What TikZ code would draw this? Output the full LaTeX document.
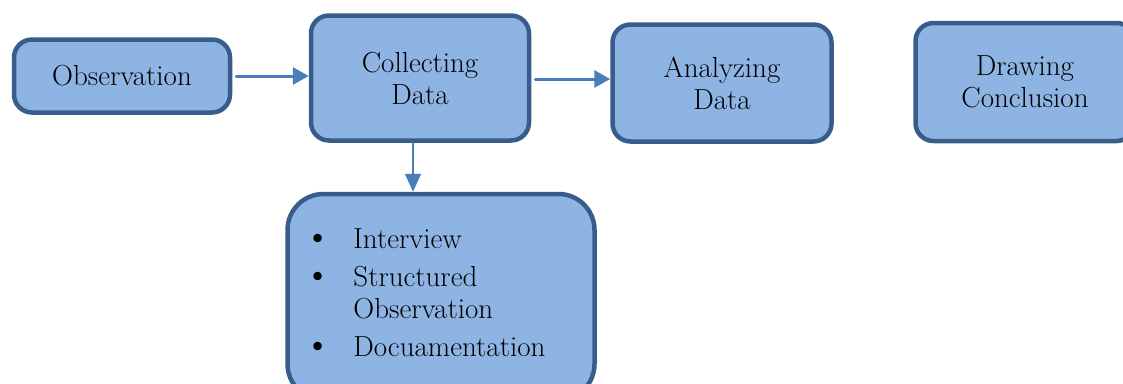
\documentclass[tikz,border=0pt]{standalone}
\usepackage{fontspec}
\usetikzlibrary{arrows.meta}
\definecolor{boxfill}{HTML}{8EB4E3}
\definecolor{boxline}{HTML}{385D8A}
\definecolor{arrowblue}{HTML}{4A7EBB}
\tikzset{
  stage/.style={draw=boxline,fill=boxfill,line width=4.5pt,rounded corners=18pt,
    align=center,font=\fontsize{29}{32}\selectfont,inner sep=0pt},
  flow/.style={draw=arrowblue,line width=3pt,-{Triangle[length=16pt,width=17pt]}},
  thinflow/.style={draw=arrowblue,line width=1.5pt,-{Triangle[length=18pt,width=16pt]}}
}
\newcommand{\itembullet}{\scalebox{1.3}{\textbullet}}
\begin{document}
\begin{tikzpicture}[x=1pt,y=-1pt,line cap=round,line join=round]
  \useasboundingbox (0,0) rectangle (1123,383);
  % stages
  \node[stage,minimum width=216pt,minimum height=73pt] (obs) at (122,76) {Observation};
  \node[stage,minimum width=218pt,minimum height=125pt] (coll) at (420,78) {Collecting\\Data};
  \node[stage,minimum width=219pt,minimum height=117pt] (ana) at (722,83) {Analyzing\\Data};
  \node[stage,minimum width=219pt,minimum height=118pt] (concl) at (1025,82) {Drawing\\Conclusion};
  \node[stage,rounded corners=36pt,minimum width=307pt,minimum height=206pt] (methods) at (441,297) {};
  \node[font=\fontsize{29}{32}\selectfont,anchor=north west,inner sep=0pt] (items)
    at ([xshift=19pt,yshift=-34pt]methods.north west) {%
    \begin{tabular}{@{}p{49pt}@{}l@{}}
      \itembullet & Interview\\[6pt]
      \itembullet & Structured\\
                  & Observation\\[6pt]
      \itembullet & Docuamentation
    \end{tabular}};
  % connectors
  \draw[flow] ([xshift=4pt]obs.east) -- (coll.west |- obs.east);
  \draw[flow] ([shift={(4pt,-1pt)}]coll.east) -- ([yshift=-1pt]coll.east -| ana.west);
  \draw[thinflow] ([xshift=-7pt]coll.south) -- ([xshift=-7pt]coll.south |- methods.north);
\end{tikzpicture}
\end{document}
